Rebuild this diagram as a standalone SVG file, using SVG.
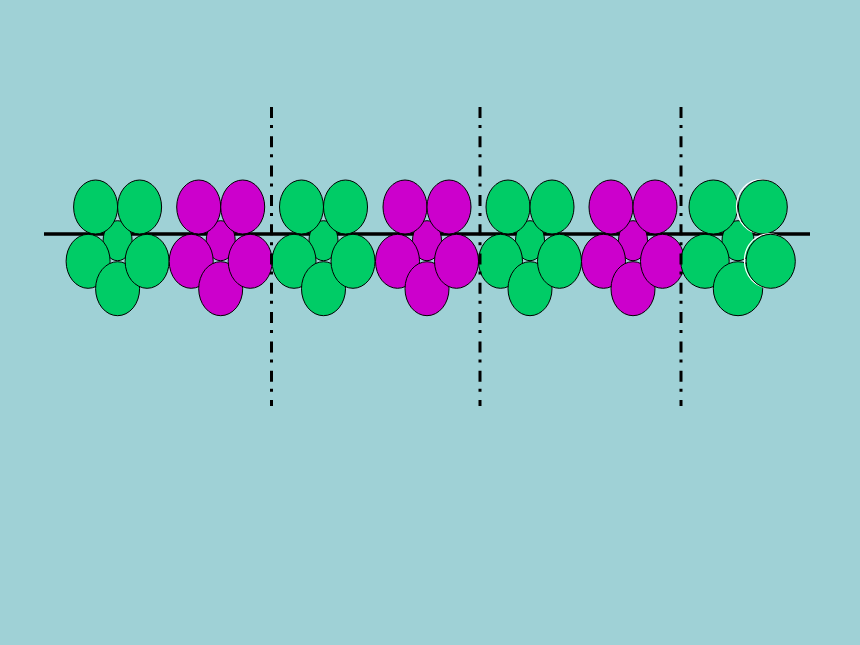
<svg xmlns="http://www.w3.org/2000/svg" width="860" height="645" viewBox="0 0 860 645">
<style>
.g{fill:#00CC66;stroke:#000;stroke-width:1}
.m{fill:#CC00CC;stroke:#000;stroke-width:1}
.ghost{fill:none;stroke:#ffffff;stroke-width:1.2}
.axis{stroke:#000;stroke-width:3.5;fill:none}
.dd{stroke:#000;stroke-width:3;stroke-dasharray:11 7 3 8.3;fill:none}
</style>
<defs>
<g id="unit">
<ellipse cx="0" cy="240.7" rx="14.5" ry="20"/>
<ellipse cx="-22" cy="207" rx="22" ry="27"/>
<ellipse cx="22" cy="207" rx="22" ry="27"/>
<ellipse cx="-29.5" cy="261.3" rx="22" ry="27"/>
<ellipse cx="0" cy="288.7" rx="22" ry="27"/>
<ellipse cx="29.5" cy="261.3" rx="22" ry="27"/>
</g>
</defs>
<rect width="860" height="645" fill="#9FD1D6"/>
<g id="connectors">
<line class="axis" x1="44" y1="234" x2="810" y2="234"/>
</g>
<g id="unit1" class="g" transform="translate(117.6,0)"><use href="#unit"/></g>
<g id="unit2" class="m" transform="translate(220.7,0)"><use href="#unit"/></g>
<g id="unit3" class="g" transform="translate(323.5,0)"><use href="#unit"/></g>
<g id="unit4" class="m" transform="translate(427,0)"><use href="#unit"/></g>
<g id="unit5" class="g" transform="translate(530,0)"><use href="#unit"/></g>
<g id="unit6" class="m" transform="translate(633,0)"><use href="#unit"/></g>
<g id="unit7">
<ellipse class="g" cx="738" cy="240.7" rx="16" ry="20"/>
<ellipse class="g" cx="713.3" cy="207" rx="24.3" ry="27"/>
<ellipse class="ghost" cx="761" cy="206.5" rx="24.5" ry="27"/>
<ellipse class="g" cx="762.8" cy="207" rx="24.5" ry="27"/>
<ellipse class="g" cx="705" cy="261.3" rx="24.2" ry="27"/>
<ellipse class="g" cx="738" cy="288.7" rx="24.7" ry="27"/>
<ellipse class="ghost" cx="769" cy="260.8" rx="24.6" ry="27"/>
<ellipse class="g" cx="770.7" cy="261.3" rx="24.6" ry="27"/>
</g>
<g id="dividers">
<line class="dd" x1="271.5" y1="107" x2="271.5" y2="406"/>
<line class="dd" x1="480" y1="107" x2="480" y2="406"/>
<line class="dd" x1="681" y1="107" x2="681" y2="406"/>
</g>
</svg>
